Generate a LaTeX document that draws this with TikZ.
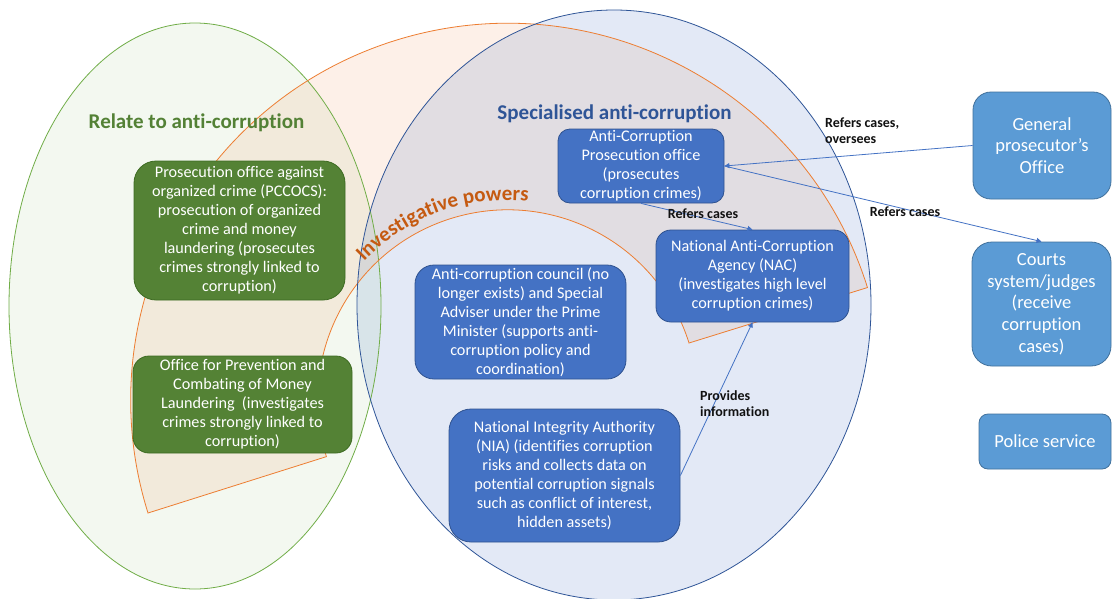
\documentclass[tikz,border=0pt]{standalone}
\usepackage{fontspec}
\setmainfont{Carlito}[Ligatures=NoCommon]
\usetikzlibrary{arrows.meta,decorations.text}
\definecolor{gline}{HTML}{70AD47}
\definecolor{gtint}{HTML}{70AD47}
\definecolor{oline}{HTML}{ED7D31}
\definecolor{otint}{HTML}{ED7D31}
\definecolor{bline}{HTML}{2F5597}
\definecolor{btint}{HTML}{4472C4}
\definecolor{gfill}{HTML}{548235}
\definecolor{gborder}{HTML}{3D6B22}
\definecolor{bfill}{HTML}{4472C4}
\definecolor{bborder}{HTML}{2F528F}
\definecolor{lfill}{HTML}{5B9BD5}
\definecolor{lborder}{HTML}{41719C}
\definecolor{titleg}{HTML}{538135}
\definecolor{titleb}{HTML}{2F5597}
\definecolor{titleo}{HTML}{C55A11}
\definecolor{lblc}{HTML}{111111}
\newcommand\bxfont{\fontsize{16.2pt}{19pt}\selectfont}
\newcommand\bigbxfont{\fontsize{18.5pt}{21.7pt}\selectfont}
\newcommand\ttlfont{\fontsize{21pt}{24pt}\selectfont\bfseries}
\newcommand\lblfont{\fontsize{14pt}{16pt}\selectfont\bfseries}
\tikzset{
  rbox/.style={rounded corners=#1, align=center, text=white, inner sep=0pt, line width=0.8pt},
  gbox/.style={rbox=#1, draw=gborder, fill=gfill, font=\bxfont},
  bbox/.style={rbox=#1, draw=bborder, fill=bfill, font=\bxfont},
  lbox/.style={rbox=#1, draw=lborder, fill=lfill, font=\bigbxfont},
  conn/.style={draw=btint, line width=0.8pt, -{Triangle[length=5pt,width=5pt]}},
  lbl/.style={font=\lblfont, text=lblc, align=left, inner sep=0pt},
  ttl/.style={font=\ttlfont, inner sep=0pt},
}
\begin{document}
\begin{tikzpicture}[x=1pt,y=-1pt]
\useasboundingbox (0,0) rectangle (1112,598);
\fill[white] (0,0) rectangle (1112,598);
% regions
\fill[gtint, fill opacity=0.08] (195,306) ellipse [x radius=186, y radius=283];
\fill[otint, fill opacity=0.11] (148,513) arc[start angle=162.6, end angle=342.6, radius=377]
  -- (689,343) arc[start angle=342.6, end angle=162.6, radius=190] -- cycle;
\fill[btint, fill opacity=0.15] (614,305) ellipse [x radius=257, y radius=295];
\draw[gline, line width=0.8pt] (195,306) ellipse [x radius=186, y radius=283];
\draw[oline, line width=0.8pt] (148,513) arc[start angle=162.6, end angle=342.6, radius=377]
  -- (689,343) arc[start angle=342.6, end angle=162.6, radius=190] -- cycle;
\draw[bline, line width=0.8pt] (614,305) ellipse [x radius=257, y radius=295];
% titles
\node[ttl, text=titleg] (t1) at (196.5,123) {Relate to anti-corruption};
\node[ttl, text=titleb] (t2) at (614.5,114) {Specialised anti-corruption};
\path[decorate, decoration={text along path, text align=left,
  text={|\color{titleo}\ttlfont|Investigative powers}}]
  (508,400) ++(-136:200) arc[start angle=-136, end angle=-60, radius=200];
% boxes
\node[gbox=22pt, minimum width=211pt, minimum height=139pt] (pcc) at (239.5,230.5)
  {Prosecution office against\\organized crime (PCCOCS):\\prosecution of organized\\crime and money\\laundering (prosecutes\\crimes strongly linked to\\corruption)};
\node[gbox=16pt, minimum width=219pt, minimum height=97pt] (opm) at (242.5,404.5)
  {Office for Prevention and\\Combating of Money\\Laundering~ (investigates\\crimes strongly linked to\\corruption)};
\node[bbox=12pt, minimum width=166pt, minimum height=74pt] (acp) at (641,166)
  {Anti-Corruption\\Prosecution office\\(prosecutes\\corruption crimes)};
\node[bbox=15pt, minimum width=193pt, minimum height=92pt] (nac) at (752.5,276)
  {National Anti-Corruption\\Agency (NAC)\\(investigates high level\\corruption crimes)};
\node[bbox=19pt, minimum width=211pt, minimum height=114pt] (acc) at (520.5,322)
  {Anti-corruption council (no\\longer exists) and Special\\Adviser under the Prime\\Minister (supports anti-\\corruption policy and\\coordination)};
\node[bbox=22pt, minimum width=231pt, minimum height=133pt] (nia) at (564.5,475.5)
  {National Integrity Authority\\(NIA) (identifies corruption\\risks and collects data on\\potential corruption signals\\such as conflict of interest,\\hidden assets)};
\node[lbox=18pt, minimum width=138pt, minimum height=107pt] (gen) at (1042,145.5)
  {General\\prosecutor’s\\Office};
\node[lbox=20pt, minimum width=139pt, minimum height=124pt] (crt) at (1041.5,304)
  {Courts\\system/judges\\(receive\\corruption\\cases)};
\node[lbox=9pt, minimum width=132pt, minimum height=55pt] (pol) at (1045,441.5)
  {Police service};
% connectors
\draw[conn] (gen.west) -- (acp.east);
\draw[conn] (acp.east) -- (crt.north);
\draw[conn] (acp.south) -- (nac.north);
\draw[conn] (nia.east) -- (nac.south);
% labels
\node[lbl, anchor=west] (l1) at (825,131) {Refers cases,\\oversees};
\node[lbl] (l2) at (703,214) {Refers cases};
\node[lbl] (l3) at (905,212) {Refers cases};
\node[lbl, anchor=west] (l4) at (700,404) {Provides\\information};
\end{tikzpicture}
\end{document}
